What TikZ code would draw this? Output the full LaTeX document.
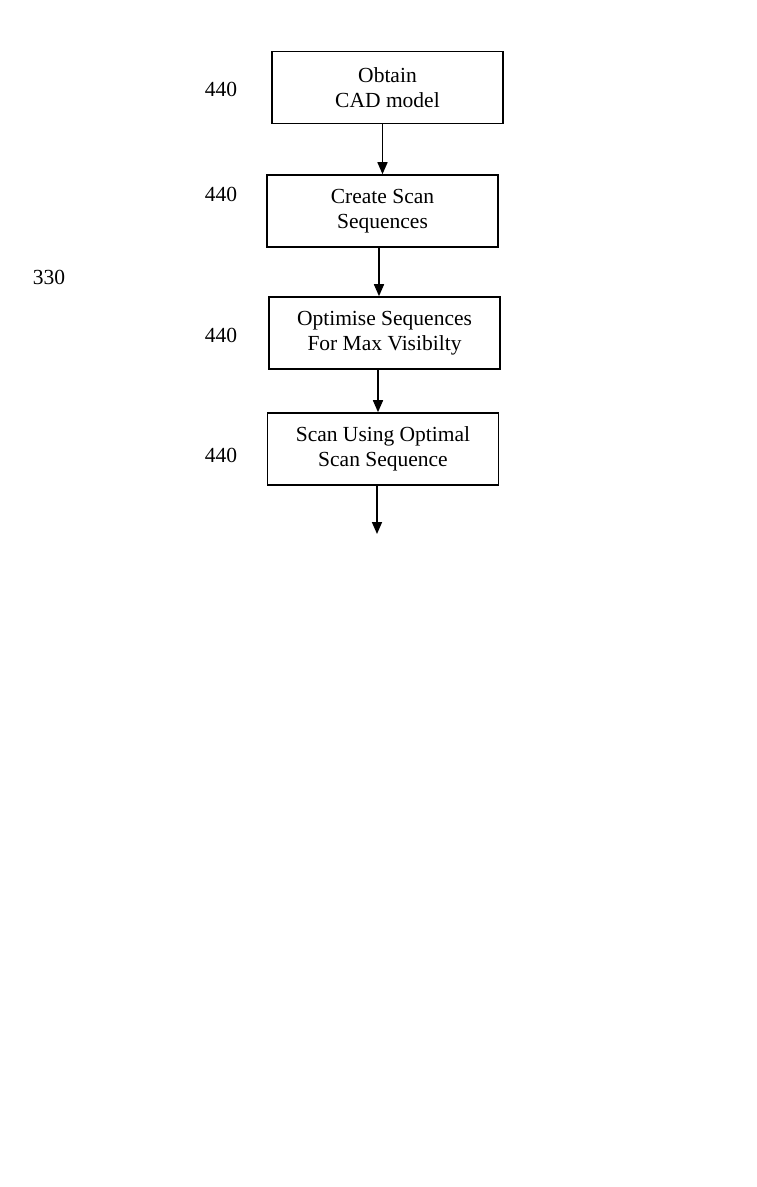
\documentclass[tikz,border=0pt]{standalone}
\usepackage{fontspec}
\setmainfont{Liberation Serif}
\usetikzlibrary{arrows.meta}
\tikzset{
	stepbox/.style={draw, line width=1.6pt, minimum width=231pt, minimum height=72pt, align=center, inner sep=0pt, font=\fontsize{21.5}{25.5}\selectfont},
	reflabel/.style={font=\fontsize{21.5}{25.5}\selectfont, inner sep=0pt},
	flow/.style={line width=1.6pt, -{Triangle[length=12pt,width=10pt]}}
}

\begin{document}
\begin{tikzpicture}[x=1pt,y=-1pt]
		%%%%% START %%%%%
		\useasboundingbox (0,0) rectangle (757,1187);
		
		\node[stepbox] (obtain) at (387.5, 87.5) {Obtain\\CAD model};
		\node[stepbox] (create) at (382.5, 211) {Create Scan\\Sequences};
		\node[stepbox] (optimise) at (384.5, 333) {Optimise Sequences\\For Max Visibilty};
		\node[stepbox] (scan) at (383, 449) {Scan Using Optimal\\Scan Sequence};
		
		\node[reflabel] (lab1) at (221, 89) {440};
		\node[reflabel] (lab2) at (221, 194) {440};
		\node[reflabel] (lab3) at (221, 335) {440};
		\node[reflabel] (lab4) at (221, 455) {440};
		\node[reflabel] (lab330) at (49, 277) {330};
		
		\coordinate (out) at (377, 534);
		
		\draw[flow] (obtain.south -| create.north) -- (create.north);
		\draw[flow] ([xshift=-3.5pt]create.south) -- ([xshift=-3.5pt]create.south |- optimise.north);
		\draw[flow] ([xshift=-6.5pt]optimise.south) -- ([xshift=-6.5pt]optimise.south |- scan.north);
		\draw[flow] (scan.south -| out) -- (out);
		%%%%% END %%%%%
	\end{tikzpicture}
\end{document}
